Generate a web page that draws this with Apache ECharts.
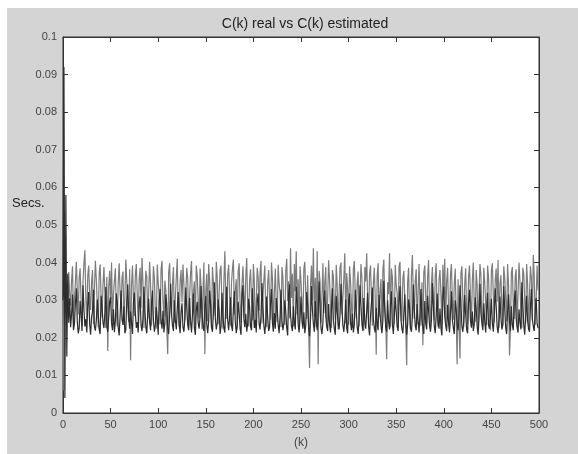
<!DOCTYPE html>
<html>
<head>
<meta charset="utf-8">
<script src="https://cdn.jsdelivr.net/npm/echarts@6/dist/echarts.min.js"></script>
<style>
html,body{margin:0;padding:0;background:#ffffff;width:578px;height:454px;overflow:hidden;}
#chart{position:absolute;left:7px;top:8px;width:571px;height:446px;}
</style>
</head>
<body>
<div id="chart"></div>
<script>
const titleText = 'C(k) real vs C(k) estimated';
const yLabel = 'Secs.';
const xLabel = '(k)';
const xMin = 0, xMax = 500, xStep = 50;
const yMin = 0, yMax = 0.1, yStep = 0.01;

// C(k) real (dark line), k = 0..499
const realValues = [
0.0300,0.0920,0.0040,0.0580,0.0150,0.0370,0.0240,0.0305,0.0228,0.0262,0.0315,0.0220,0.0236,0.0290,0.0332,0.0245,0.0212,0.0226,0.0298,0.0260,0.0218,0.0340,0.0275,0.0230,0.0250,
0.0214,0.0288,0.0322,0.0236,0.0208,0.0255,0.0270,0.0328,0.0230,0.0219,0.0246,0.0302,0.0265,0.0222,0.0210,0.0312,0.0285,0.0240,0.0226,0.0268,0.0335,0.0232,0.0216,0.0252,0.0296,
0.0308,0.0238,0.0220,0.0276,0.0215,0.0244,0.0318,0.0292,0.0228,0.0206,0.0258,0.0326,0.0248,0.0234,0.0284,0.0212,0.0222,0.0302,0.0342,0.0256,0.0224,0.0270,0.0238,0.0210,0.0296,
0.0320,0.0266,0.0226,0.0242,0.0214,0.0288,0.0310,0.0232,0.0218,0.0254,0.0336,0.0278,0.0228,0.0212,0.0262,0.0304,0.0240,0.0220,0.0294,0.0326,0.0246,0.0216,0.0234,0.0282,0.0252,
0.0208,0.0298,0.0330,0.0244,0.0224,0.0272,0.0214,0.0238,0.0316,0.0286,0.0226,0.0210,0.0258,0.0344,0.0264,0.0232,0.0218,0.0300,0.0248,0.0222,0.0276,0.0322,0.0236,0.0212,0.0268,
0.0292,0.0228,0.0216,0.0250,0.0334,0.0280,0.0234,0.0220,0.0306,0.0242,0.0214,0.0262,0.0318,0.0226,0.0208,0.0274,0.0296,0.0240,0.0224,0.0256,0.0338,0.0270,0.0230,0.0218,0.0284,
0.0312,0.0236,0.0212,0.0244,0.0326,0.0290,0.0228,0.0216,0.0266,0.0348,0.0252,0.0222,0.0238,0.0302,0.0274,0.0210,0.0230,0.0320,0.0260,0.0226,0.0214,0.0288,0.0336,0.0246,0.0220,
0.0256,0.0308,0.0232,0.0218,0.0278,0.0324,0.0242,0.0212,0.0234,0.0296,0.0268,0.0224,0.0208,0.0314,0.0340,0.0250,0.0228,0.0264,0.0216,0.0238,0.0304,0.0282,0.0230,0.0220,0.0332,
0.0272,0.0226,0.0248,0.0214,0.0298,0.0318,0.0236,0.0222,0.0260,0.0346,0.0286,0.0232,0.0210,0.0244,0.0310,0.0254,0.0218,0.0228,0.0292,0.0330,0.0240,0.0216,0.0266,0.0224,0.0306,
0.0280,0.0234,0.0212,0.0256,0.0328,0.0246,0.0220,0.0238,0.0300,0.0270,0.0226,0.0206,0.0316,0.0342,0.0262,0.0230,0.0218,0.0284,0.0240,0.0222,0.0336,0.0294,0.0236,0.0214,0.0252,
0.0310,0.0244,0.0224,0.0268,0.0212,0.0232,0.0322,0.0288,0.0228,0.0204,0.0250,0.0338,0.0274,0.0236,0.0216,0.0298,0.0242,0.0220,0.0262,0.0350,0.0282,0.0226,0.0210,0.0240,0.0304,
0.0326,0.0258,0.0230,0.0218,0.0290,0.0236,0.0214,0.0276,0.0332,0.0248,0.0224,0.0208,0.0312,0.0270,0.0238,0.0222,0.0260,0.0344,0.0284,0.0232,0.0216,0.0246,0.0302,0.0226,0.0212,
0.0296,0.0318,0.0240,0.0220,0.0264,0.0214,0.0234,0.0328,0.0278,0.0228,0.0210,0.0252,0.0340,0.0286,0.0236,0.0218,0.0306,0.0244,0.0224,0.0272,0.0320,0.0230,0.0206,0.0258,0.0292,
0.0334,0.0250,0.0226,0.0214,0.0280,0.0238,0.0220,0.0314,0.0266,0.0232,0.0212,0.0246,0.0352,0.0274,0.0228,0.0216,0.0300,0.0242,0.0222,0.0288,0.0324,0.0236,0.0210,0.0260,0.0308,
0.0270,0.0230,0.0218,0.0294,0.0338,0.0248,0.0224,0.0212,0.0264,0.0316,0.0240,0.0208,0.0234,0.0302,0.0282,0.0226,0.0216,0.0256,0.0342,0.0276,0.0232,0.0220,0.0290,0.0244,0.0214,
0.0268,0.0330,0.0252,0.0228,0.0210,0.0298,0.0238,0.0222,0.0312,0.0272,0.0234,0.0216,0.0246,0.0346,0.0284,0.0230,0.0212,0.0260,0.0318,0.0242,0.0224,0.0278,0.0226,0.0206,0.0306,
0.0336,0.0256,0.0232,0.0218,0.0288,0.0240,0.0214,0.0264,0.0324,0.0248,0.0226,0.0210,0.0300,0.0276,0.0236,0.0220,0.0254,0.0340,0.0290,0.0230,0.0216,0.0244,0.0314,0.0262,0.0222,
0.0212,0.0296,0.0328,0.0246,0.0228,0.0270,0.0218,0.0236,0.0308,0.0280,0.0232,0.0208,0.0250,0.0344,0.0266,0.0238,0.0220,0.0292,0.0242,0.0214,0.0274,0.0320,0.0234,0.0224,0.0258,
0.0304,0.0240,0.0216,0.0262,0.0332,0.0286,0.0230,0.0212,0.0248,0.0310,0.0254,0.0222,0.0236,0.0338,0.0278,0.0226,0.0210,0.0268,0.0316,0.0244,0.0218,0.0284,0.0234,0.0220,0.0298,
0.0326,0.0252,0.0228,0.0214,0.0276,0.0240,0.0222,0.0348,0.0290,0.0234,0.0208,0.0258,0.0312,0.0246,0.0224,0.0216,0.0282,0.0330,0.0250,0.0230,0.0218,0.0270,0.0306,0.0238,0.0226
];

// C(k) estimated (lighter line), k = 0..499
const estimatedValues = [
0.0310,0.0060,0.0370,0.0265,0.0340,0.0252,0.0375,0.0318,0.0286,0.0352,0.0390,0.0240,0.0302,0.0345,0.0402,0.0328,0.0262,0.0360,0.0385,0.0296,0.0232,0.0350,0.0398,0.0433,0.0300,
0.0248,0.0365,0.0392,0.0312,0.0274,0.0348,0.0380,0.0236,0.0325,0.0405,0.0355,0.0290,0.0228,0.0372,0.0395,0.0308,0.0254,0.0342,0.0388,0.0318,0.0226,0.0362,0.0165,0.0335,0.0378,
0.0292,0.0400,0.0244,0.0315,0.0352,0.0385,0.0268,0.0230,0.0345,0.0398,0.0320,0.0278,0.0360,0.0376,0.0234,0.0310,0.0408,0.0350,0.0286,0.0242,0.0382,0.0140,0.0340,0.0392,0.0302,
0.0258,0.0368,0.0396,0.0314,0.0238,0.0355,0.0386,0.0280,0.0412,0.0346,0.0226,0.0308,0.0378,0.0362,0.0250,0.0322,0.0402,0.0340,0.0232,0.0296,0.0390,0.0358,0.0270,0.0224,0.0395,
0.0348,0.0312,0.0236,0.0382,0.0405,0.0300,0.0256,0.0352,0.0326,0.0228,0.0156,0.0374,0.0398,0.0316,0.0262,0.0344,0.0388,0.0240,0.0305,0.0360,0.0410,0.0276,0.0230,0.0350,0.0380,
0.0294,0.0395,0.0342,0.0246,0.0318,0.0386,0.0358,0.0226,0.0310,0.0372,0.0404,0.0264,0.0322,0.0350,0.0234,0.0392,0.0365,0.0298,0.0252,0.0384,0.0340,0.0222,0.0314,0.0400,0.0157,
0.0325,0.0370,0.0244,0.0396,0.0354,0.0286,0.0228,0.0388,0.0345,0.0308,0.0258,0.0402,0.0362,0.0236,0.0320,0.0380,0.0392,0.0270,0.0224,0.0350,0.0430,0.0304,0.0250,0.0368,0.0394,
0.0312,0.0232,0.0346,0.0384,0.0408,0.0262,0.0326,0.0356,0.0222,0.0376,0.0398,0.0292,0.0240,0.0342,0.0390,0.0318,0.0254,0.0364,0.0412,0.0284,0.0230,0.0352,0.0382,0.0306,0.0246,
0.0396,0.0348,0.0226,0.0288,0.0386,0.0360,0.0272,0.0374,0.0404,0.0238,0.0310,0.0354,0.0392,0.0262,0.0228,0.0346,0.0380,0.0302,0.0248,0.0400,0.0358,0.0218,0.0316,0.0384,0.0290,
0.0242,0.0394,0.0344,0.0320,0.0228,0.0388,0.0362,0.0276,0.0234,0.0378,0.0410,0.0298,0.0350,0.0252,0.0438,0.0306,0.0370,0.0230,0.0396,0.0324,0.0430,0.0262,0.0356,0.0224,0.0390,
0.0348,0.0294,0.0236,0.0384,0.0402,0.0314,0.0250,0.0366,0.0226,0.0120,0.0340,0.0392,0.0300,0.0438,0.0256,0.0360,0.0228,0.0430,0.0130,0.0378,0.0350,0.0240,0.0304,0.0398,0.0266,
0.0346,0.0388,0.0232,0.0302,0.0406,0.0354,0.0276,0.0226,0.0380,0.0364,0.0296,0.0248,0.0394,0.0342,0.0222,0.0318,0.0386,0.0400,0.0262,0.0308,0.0358,0.0425,0.0238,0.0372,0.0330,
0.0234,0.0390,0.0352,0.0288,0.0226,0.0382,0.0404,0.0314,0.0252,0.0346,0.0376,0.0230,0.0306,0.0396,0.0360,0.0270,0.0220,0.0388,0.0350,0.0425,0.0298,0.0244,0.0370,0.0392,0.0312,
0.0232,0.0344,0.0386,0.0304,0.0155,0.0366,0.0398,0.0256,0.0320,0.0356,0.0224,0.0380,0.0408,0.0286,0.0240,0.0143,0.0348,0.0316,0.0425,0.0228,0.0384,0.0362,0.0272,0.0236,0.0394,
0.0340,0.0318,0.0226,0.0390,0.0402,0.0282,0.0244,0.0358,0.0378,0.0306,0.0230,0.0127,0.0346,0.0386,0.0264,0.0222,0.0364,0.0420,0.0308,0.0250,0.0352,0.0382,0.0236,0.0320,0.0396,
0.0292,0.0232,0.0348,0.0180,0.0374,0.0392,0.0310,0.0240,0.0360,0.0407,0.0284,0.0226,0.0344,0.0388,0.0302,0.0246,0.0366,0.0398,0.0258,0.0228,0.0354,0.0380,0.0316,0.0234,0.0394,
0.0314,0.0410,0.0238,0.0350,0.0386,0.0276,0.0224,0.0368,0.0396,0.0300,0.0248,0.0342,0.0384,0.0260,0.0130,0.0356,0.0232,0.0145,0.0372,0.0390,0.0304,0.0228,0.0346,0.0385,0.0268,
0.0236,0.0362,0.0392,0.0308,0.0226,0.0354,0.0400,0.0286,0.0242,0.0380,0.0340,0.0222,0.0316,0.0396,0.0366,0.0254,0.0230,0.0386,0.0348,0.0290,0.0234,0.0392,0.0360,0.0268,0.0220,
0.0378,0.0398,0.0314,0.0240,0.0352,0.0384,0.0296,0.0407,0.0226,0.0344,0.0366,0.0276,0.0232,0.0390,0.0358,0.0306,0.0244,0.0396,0.0340,0.0153,0.0224,0.0374,0.0388,0.0284,0.0250,
0.0362,0.0382,0.0230,0.0316,0.0400,0.0350,0.0262,0.0226,0.0386,0.0370,0.0298,0.0238,0.0396,0.0344,0.0228,0.0312,0.0390,0.0358,0.0246,0.0420,0.0366,0.0234,0.0302,0.0392,0.0326
];

const toPairs = arr => arr.map((v, k) => [k, v]);

const chart = echarts.init(document.getElementById('chart'), null, {renderer: 'canvas'});
const fontFamily = 'Liberation Sans, Arial, sans-serif';
const labelColor = '#444';
const axisColor = '#333';

const baseX = {
  type: 'value', min: xMin, max: xMax, interval: xStep,
  splitLine: {show: false},
  axisLine: {show: true, onZero: false, lineStyle: {color: axisColor, width: 1}},
  axisTick: {show: true, inside: true, length: 5, lineStyle: {color: axisColor}},
};
const baseY = {
  type: 'value', min: yMin, max: yMax, interval: yStep,
  splitLine: {show: false},
  axisLine: {show: true, onZero: false, lineStyle: {color: axisColor, width: 1}},
  axisTick: {show: true, inside: true, length: 5, lineStyle: {color: axisColor}},
};

chart.setOption({
  animation: false,
  backgroundColor: '#d4d4d4',
  title: {
    text: titleText,
    left: 293, top: 4, textAlign: 'center',
    textStyle: {fontFamily: fontFamily, fontSize: 14, fontWeight: 'normal', color: '#222'}
  },
  grid: {
    left: 56, top: 29, width: 476, height: 379,
    show: true, backgroundColor: '#ffffff', borderColor: axisColor, borderWidth: 1,
    containLabel: false
  },
  xAxis: [
    Object.assign({}, baseX, {
      position: 'bottom',
      name: xLabel, nameLocation: 'middle', nameGap: 24,
      nameTextStyle: {fontFamily: fontFamily, fontSize: 12, color: labelColor},
      axisLabel: {show: true, margin: 6, fontFamily: fontFamily, fontSize: 11, color: labelColor}
    }),
    Object.assign({}, baseX, {position: 'top', axisLabel: {show: false}})
  ],
  yAxis: [
    Object.assign({}, baseY, {
      position: 'left',
      axisLabel: {show: true, margin: 6, fontFamily: fontFamily, fontSize: 11, color: labelColor}
    }),
    Object.assign({}, baseY, {position: 'right', axisLabel: {show: false}})
  ],
  graphic: [{
    type: 'text', left: 5, top: 189,
    style: {text: yLabel, fontFamily: fontFamily, fontSize: 13, fill: '#222'}
  }],
  series: [
    {
      name: 'C(k) estimated', type: 'line', data: toPairs(estimatedValues),
      showSymbol: false, symbol: 'none', sampling: null,
      lineStyle: {color: '#7c7c7c', width: 1.2}, z: 2
    },
    {
      name: 'C(k) real', type: 'line', data: toPairs(realValues),
      showSymbol: false, symbol: 'none', sampling: null,
      lineStyle: {color: '#2e2e2e', width: 1.2}, z: 3
    }
  ]
});
</script>
</body>
</html>
